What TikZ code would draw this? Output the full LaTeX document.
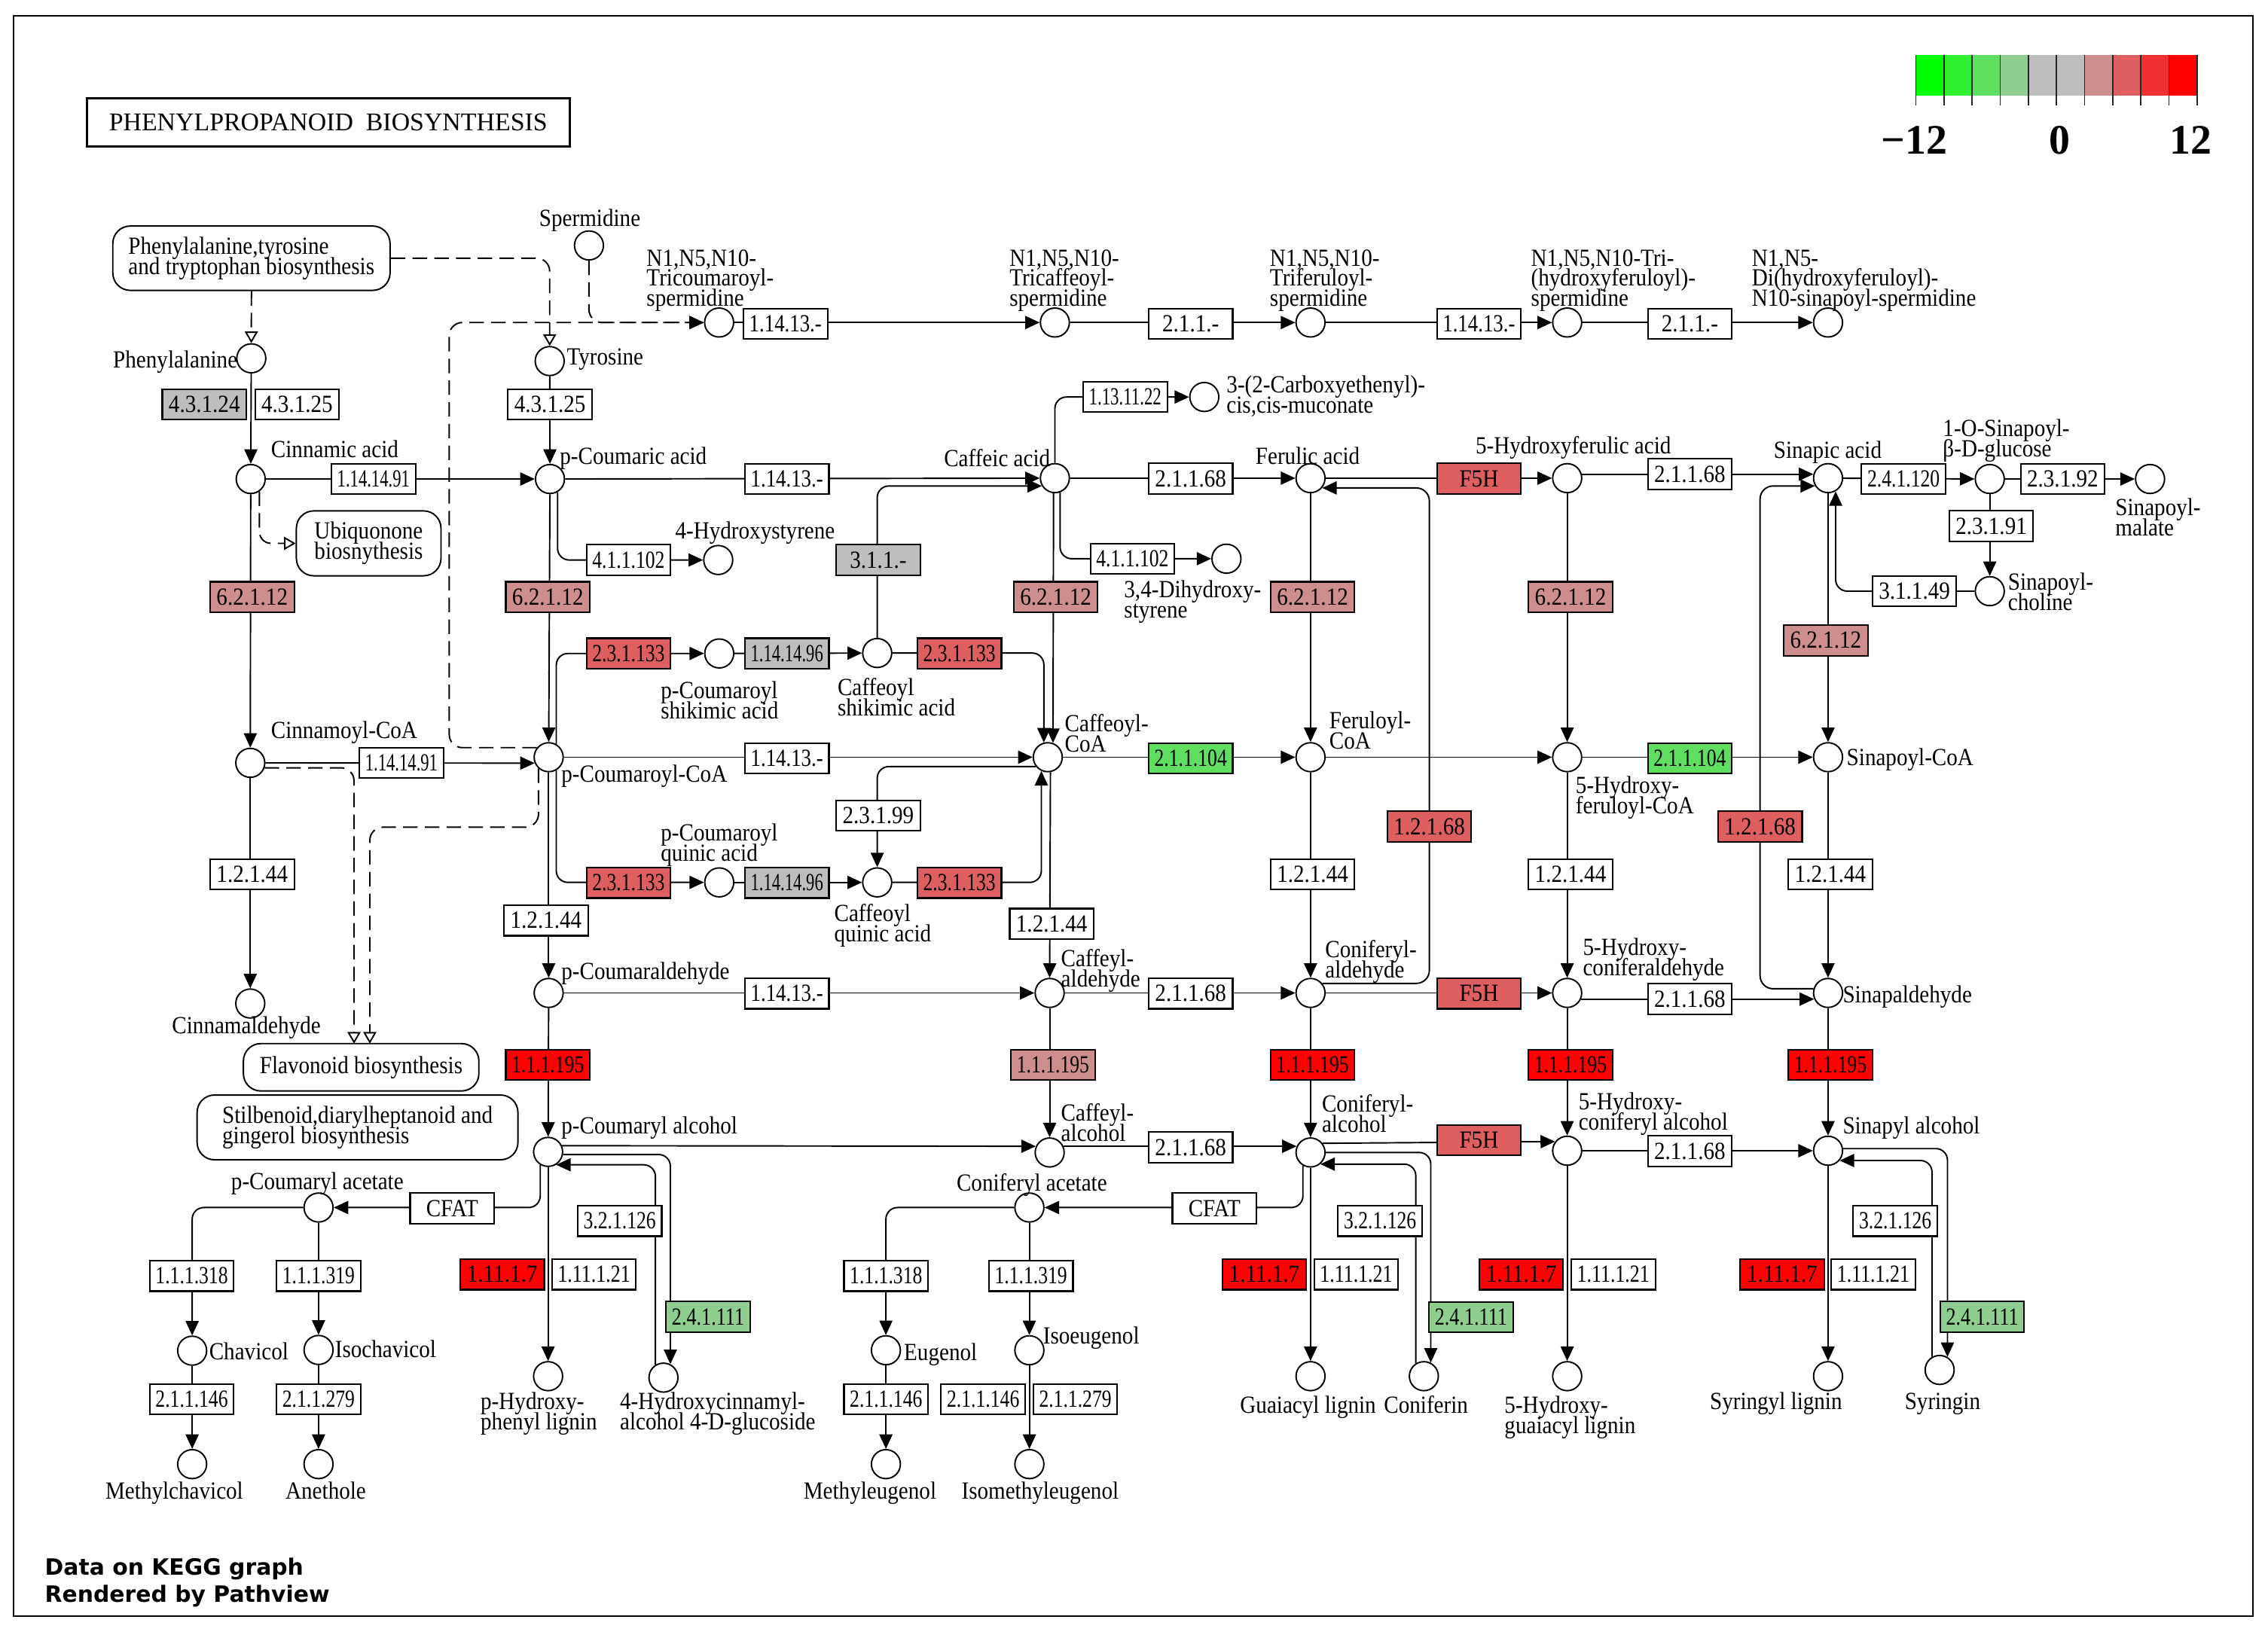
\documentclass[tikz,border=0pt]{standalone}
\usepackage{fontspec}
\usepackage{graphicx}
\setmainfont{Liberation Serif}
\newfontfamily\labf{Liberation Serif}[FakeStretch=0.89]
\newfontfamily\dvs{DejaVu Sans}
\usetikzlibrary{arrows.meta,calc}
\pgfdeclarelayer{back}
\pgfdeclarelayer{bg}
\pgfsetlayers{back,bg,main}
\definecolor{gA}{RGB}{0,255,0}
\definecolor{gB}{RGB}{48,238,48}
\definecolor{gC}{RGB}{95,222,95}
\definecolor{gD}{RGB}{143,206,143}
\definecolor{greyz}{RGB}{190,190,190}
\definecolor{rA}{RGB}{206,142,142}
\definecolor{rB}{RGB}{222,95,95}
\definecolor{rC}{RGB}{238,48,48}
\definecolor{rD}{RGB}{255,0,0}
\newsavebox\ecsave
\newcommand\ectext[1]{\sbox\ecsave{#1}\ifdim\wd\ecsave>50pt\pgfmathparse{50/\wd\ecsave}\scalebox{\pgfmathresult}[1]{\usebox\ecsave}\else\usebox\ecsave\fi}
\newcommand\mlabs[2]{\vtop{\baselineskip=#1\relax\lineskiplimit=-30pt\lineskip=0pt\tabskip=0pt\halign{##\hfil\cr#2\crcr}}}
\newcommand\mlab[1]{\mlabs{14pt}{#1}}
\tikzset{
 lf/.style={font=\labf\fontsize{17}{14}\selectfont},
 cpd/.style={circle, draw, fill=white, minimum size=20pt, inner sep=0pt, line width=1pt},
 ecb/.style={rectangle, draw, fill=white, minimum width=58pt, minimum height=21pt, inner sep=0pt, line width=1.1pt, lf},
 mapb/.style={rectangle, draw, fill=white, rounded corners=12pt, line width=1pt, inner sep=0pt, lf},
 lbl/.style={inner sep=0pt, lf, anchor=base west},
 lblc/.style={inner sep=0pt, lf, anchor=base},
 arr/.style={line width=1pt, -{Triangle[length=10pt,width=9pt]}},
 dsh/.style={line width=1pt, dash pattern=on 10pt off 5pt},
 oarr/.style={-{Triangle[open,length=8pt,width=9pt]}},
}
\newcommand\ecn[4][white]{\node[ecb,fill=#1] (#2) at (#3) {\ectext{#4}};}
\begin{document}
\begin{tikzpicture}[x=1pt,y=-1pt]
\useasboundingbox (0,0) rectangle (1565,1136.7);
\begin{pgfonlayer}{back}
\fill[white] (0,0) rectangle (1565,1136.7);
\end{pgfonlayer}
\draw[line width=1pt] (9.3,10.9) rectangle (1554.6,1115.5);
% title
\node[draw, line width=1.6pt, minimum width=333pt, minimum height=33pt, inner sep=0pt, font=\fontsize{17.6}{20}\selectfont] (title) at (226.5,84.5) {PHENYLPROPANOID\ \ BIOSYNTHESIS};
% legend
\fill[gA] (1322,38.2) rectangle ++(19.4,27.6);
\fill[gB] (1341.4,38.2) rectangle ++(19.4,27.6);
\fill[gC] (1360.8,38.2) rectangle ++(19.4,27.6);
\fill[gD] (1380.2,38.2) rectangle ++(19.4,27.6);
\fill[greyz] (1399.6,38.2) rectangle ++(38.8,27.6);
\fill[rA] (1438.4,38.2) rectangle ++(19.4,27.6);
\fill[rB] (1457.8,38.2) rectangle ++(19.4,27.6);
\fill[rC] (1477.2,38.2) rectangle ++(19.4,27.6);
\fill[rD] (1496.6,38.2) rectangle ++(19.4,27.6);
\foreach \i in {0,...,10} \draw[line width=0.9pt, black!85] (1322+\i*19.4,38.2) -- (1322+\i*19.4,72.6);
\node[inner sep=0pt, anchor=base, font=\bfseries\fontsize{29}{30}\selectfont] (lg1) at (1321,106.5) {−12};
\node[inner sep=0pt, anchor=base, font=\bfseries\fontsize{29}{30}\selectfont] (lg2) at (1421.4,106.5) {0};
\node[inner sep=0pt, anchor=base, font=\bfseries\fontsize{29}{30}\selectfont] (lg3) at (1511.7,106.5) {12};
% source text
\node[inner sep=0pt, anchor=base west, font=\dvs\bfseries\fontsize{15.5}{18.8}\selectfont] (src) at (30.8,1087) {\mlabs{18.8pt}{Data on KEGG graph\cr Rendered by Pathview}};
% map nodes
\node[mapb, minimum width=191.3pt, minimum height=44.4pt] (ptt) at (173.5,178.2) {\mlab{Phenylalanine,tyrosine\cr and tryptophan biosynthesis}};
\node[mapb, minimum width=99.8pt, minimum height=44.8pt] (ubq) at (254.4,375) {\mlab{Ubiquonone\cr biosnythesis}};
\node[mapb, minimum width=162.5pt, minimum height=32.7pt] (flv) at (249.2,736.6) {Flavonoid biosynthesis};
\node[mapb, minimum width=221.4pt, minimum height=44.7pt] (stb) at (246.7,778.1) {\mlab{Stilbenoid,diarylheptanoid and\cr gingerol biosynthesis}};
% compounds
\node[cpd] (spd) at (406.4,169.4) {};
\node[cpd] (phe) at (173.4,247.3) {};
\node[cpd] (tyr) at (379.3,249.2) {};
\node[cpd] (tcs) at (496.2,222.6) {};
\node[cpd] (tcf) at (727.9,222.6) {};
\node[cpd] (tfr) at (904.3,222.6) {};
\node[cpd] (thf) at (1081.4,222.6) {};
\node[cpd] (dhs) at (1261.4,222.6) {};
\node[cpd] (cin) at (173,330.6) {};
\node[cpd] (pca) at (379.5,330.6) {};
\node[cpd] (caf) at (727.9,330) {};
\node[cpd] (fer) at (904.3,330) {};
\node[cpd] (hfa) at (1081.4,330) {};
\node[cpd] (sin) at (1261.4,330) {};
\node[cpd] (sgl) at (1373,330.6) {};
\node[cpd] (sml) at (1483.6,330.6) {};
\node[cpd] (chol) at (1373,408) {};
\node[cpd] (muc) at (831,274) {};
\node[cpd] (hst) at (495.6,386.5) {};
\node[cpd] (dhst) at (846.3,385.6) {};
\node[cpd] (pcs) at (496.3,451) {};
\node[cpd] (cfs) at (605.3,450.7) {};
\node[cpd] (pcq) at (496.3,609) {};
\node[cpd] (cfq) at (605.3,609) {};
\node[cpd] (cnc) at (172.7,526.5) {};
\node[cpd] (pcc) at (378.6,522.6) {};
\node[cpd] (cfc) at (723,522.6) {};
\node[cpd] (frc) at (904.3,522.6) {};
\node[cpd] (hfc) at (1081.4,522.6) {};
\node[cpd] (snc) at (1261.4,522.6) {};
\node[cpd] (cnd) at (172.7,692.6) {};
\node[cpd] (pcd) at (378.6,685.3) {};
\node[cpd] (cfd) at (724.3,685.3) {};
\node[cpd] (cod) at (904.3,685.3) {};
\node[cpd] (hcd) at (1081.4,685.3) {};
\node[cpd] (snd) at (1261.4,685.3) {};
\node[cpd] (pcl) at (378.2,795) {};
\node[cpd] (cfl) at (724.3,795.4) {};
\node[cpd] (col) at (904.3,795.4) {};
\node[cpd] (hcl) at (1081.4,794.2) {};
\node[cpd] (snl) at (1261.4,794.2) {};
\node[cpd] (pcac) at (219.8,833.4) {};
\node[cpd] (chv) at (132.6,932.2) {};
\node[cpd] (ichv) at (219.8,931.7) {};
\node[cpd] (mchv) at (132.6,1010.5) {};
\node[cpd] (anet) at (219.8,1010.5) {};
\node[cpd] (phl) at (378.2,949.8) {};
\node[cpd] (hcg) at (457.8,950.8) {};
\node[cpd] (coac) at (710.3,833.4) {};
\node[cpd] (eug) at (611.3,931.9) {};
\node[cpd] (ieug) at (710.3,931.9) {};
\node[cpd] (meug) at (611.3,1010.5) {};
\node[cpd] (imeug) at (710.3,1010.5) {};
\node[cpd] (gl) at (904.3,949.8) {};
\node[cpd] (cfn) at (982.5,949.8) {};
\node[cpd] (hgl) at (1081.4,949.8) {};
\node[cpd] (sl) at (1261.4,949.8) {};
\node[cpd] (syr) at (1338.4,945.5) {};
% bend coordinates
\coordinate (b1) at (310,222.6);
\coordinate (fa) at (244.3,720.3);
\coordinate (fb) at (255.2,720.3);
\coordinate (fc) at (255.2,570.9);
% enzymes
\ecn[greyz]{e1}{141,279}{4.3.1.24}
\ecn{e2}{205,279}{4.3.1.25}
\ecn{e3}{379.5,279}{4.3.1.25}
\ecn{e4}{257.7,330.6}{1.14.14.91}
\ecn{e5}{542,223.4}{1.14.13.-}
\ecn{e6}{821.6,223.4}{2.1.1.-}
\ecn{e7}{1020.5,223.4}{1.14.13.-}
\ecn{e8}{1166,223.4}{2.1.1.-}
\ecn{e9}{543,330.6}{1.14.13.-}
\ecn{e10}{776.4,274}{1.13.11.22}
\ecn{e11}{821.6,330.3}{2.1.1.68}
\ecn[rB]{e12}{1020.5,330.3}{F5H}
\ecn{e13}{1166,327.2}{2.1.1.68}
\ecn{e14}{1313.5,330.6}{2.4.1.120}
\ecn{e15}{1423.3,330.6}{2.3.1.92}
\ecn{e16}{1374,363}{2.3.1.91}
\ecn{e17}{1321,408}{3.1.1.49}
\ecn[rA]{e18}{174,412}{6.2.1.12}
\ecn[rA]{e19}{378,412}{6.2.1.12}
\ecn{e20}{433.7,386.5}{4.1.1.102}
\ecn[greyz]{e21}{606,386.5}{3.1.1.-}
\ecn[rA]{e22}{728.5,412}{6.2.1.12}
\ecn{e23}{781.4,385.6}{4.1.1.102}
\ecn[rA]{e24}{905.7,412}{6.2.1.12}
\ecn[rA]{e25}{1083.7,412}{6.2.1.12}
\ecn[rA]{e26}{1259.8,442}{6.2.1.12}
\ecn[rB]{e27}{433.7,451}{2.3.1.133}
\ecn[greyz]{e28}{543,451}{1.14.14.96}
\ecn[rB]{e29}{662,451}{2.3.1.133}
\ecn{e30}{277,526.4}{1.14.14.91}
\ecn{e31}{543,523.4}{1.14.13.-}
\ecn[gC]{e32}{821.6,523.4}{2.1.1.104}
\ecn[gC]{e33}{1166,523.4}{2.1.1.104}
\ecn{e34}{606,562.8}{2.3.1.99}
\ecn[rB]{e35}{986.3,570.4}{1.2.1.68}
\ecn[rB]{e36}{1214.5,570.4}{1.2.1.68}
\ecn{e37}{174,603.5}{1.2.1.44}
\ecn[rB]{e38}{433.7,609.3}{2.3.1.133}
\ecn[greyz]{e39}{543,609.3}{1.14.14.96}
\ecn[rB]{e40}{662,609.3}{2.3.1.133}
\ecn{e41}{905.7,603.5}{1.2.1.44}
\ecn{e42}{1083.7,603.5}{1.2.1.44}
\ecn{e43}{1263,603.5}{1.2.1.44}
\ecn{e44}{376.8,635.3}{1.2.1.44}
\ecn{e45}{725.7,637.6}{1.2.1.44}
\ecn{e46}{543,685.7}{1.14.13.-}
\ecn{e47}{821.6,685.7}{2.1.1.68}
\ecn[rB]{e48}{1020.5,685.7}{F5H}
\ecn{e49}{1166,689.5}{2.1.1.68}
\ecn[rD]{e50}{378,735}{1.1.1.195}
\ecn[rA]{e51}{726.6,735}{1.1.1.195}
\ecn[rD]{e52}{905.7,735}{1.1.1.195}
\ecn[rD]{e53}{1083.7,735}{1.1.1.195}
\ecn[rD]{e54}{1263,735}{1.1.1.195}
\ecn{e55}{821.6,791.8}{2.1.1.68}
\ecn[rB]{e56}{1020.5,787}{F5H}
\ecn{e57}{1166,794.5}{2.1.1.68}
\ecn{e58}{312,834}{CFAT}
\ecn{e59}{427.6,842.7}{3.2.1.126}
\ecn[rD]{e60}{346.5,879.6}{1.11.1.7}
\ecn{e61}{409.9,879.6}{1.11.1.21}
\ecn[gD]{e62}{488.6,908.8}{2.4.1.111}
\ecn{e63}{132.3,880.6}{1.1.1.318}
\ecn{e64}{219.8,880.6}{1.1.1.319}
\ecn{e65}{132.3,965.7}{2.1.1.146}
\ecn{e66}{219.8,965.7}{2.1.1.279}
\ecn{e67}{838,834}{CFAT}
\ecn{e68}{611.4,880.6}{1.1.1.318}
\ecn{e69}{711.4,880.6}{1.1.1.319}
\ecn{e70}{611.4,965.7}{2.1.1.146}
\ecn{e71}{678.4,965.7}{2.1.1.146}
\ecn{e72}{742,965.7}{2.1.1.279}
\ecn{e73}{952.3,842.7}{3.2.1.126}
\ecn[rD]{e74}{872.4,879.6}{1.11.1.7}
\ecn{e75}{935.8,879.6}{1.11.1.21}
\ecn[gD]{e76}{1015,909}{2.4.1.111}
\ecn[rD]{e77}{1049.7,879.6}{1.11.1.7}
\ecn{e78}{1113.2,879.6}{1.11.1.21}
\ecn[rD]{e79}{1229.7,879.6}{1.11.1.7}
\ecn{e80}{1292.6,879.6}{1.11.1.21}
\ecn{e81}{1307.8,842.7}{3.2.1.126}
\ecn[gD]{e82}{1367.8,908.8}{2.4.1.111}
% labels
\node[lblc] (L1) at (407,156) {Spermidine};
\node[lbl] (L2) at (446,183.5) {\mlab{N1,N5,N10-\cr Tricoumaroyl-\cr spermidine}};
\node[lbl] (L3) at (696.4,183.5) {\mlab{N1,N5,N10-\cr Tricaffeoyl-\cr spermidine}};
\node[lbl] (L4) at (876.1,183.5) {\mlab{N1,N5,N10-\cr Triferuloyl-\cr spermidine}};
\node[lbl] (L5) at (1056.3,183.5) {\mlab{N1,N5,N10-Tri-\cr (hydroxyferuloyl)-\cr spermidine}};
\node[lbl] (L6) at (1208.7,183.5) {\mlab{N1,N5-\cr Di(hydroxyferuloyl)-\cr N10-sinapoyl-spermidine}};
\node[lbl, anchor=base east] (L8) at (164,254) {Phenylalanine};
\node[lbl] (L9) at (391,252) {Tyrosine};
\node[lblc] (L10) at (231,316) {Cinnamic acid};
\node[lbl] (L11) at (386.2,320.6) {p-Coumaric acid};
\node[lbl] (L12) at (651.2,322) {Caffeic acid};
\node[lbl] (L13) at (866.2,320.6) {Ferulic acid};
\node[lbl] (L14) at (1018,313.4) {5-Hydroxyferulic acid};
\node[lbl] (L15) at (1223.8,316.5) {Sinapic acid};
\node[lbl] (L16) at (1340.5,301.3) {\mlab{1-O-Sinapoyl-\cr β-D-glucose}};
\node[lbl] (L17) at (1459.5,355.7) {\mlab{Sinapoyl-\cr malate}};
\node[lbl] (L19) at (465.8,372) {4-Hydroxystyrene};
\node[lbl] (L20) at (846.2,271) {\mlab{3-(2-Carboxyethenyl)-\cr cis,cis-muconate}};
\node[lbl] (L21) at (775.5,412.4) {\mlab{3,4-Dihydroxy-\cr styrene}};
\node[lbl] (L22) at (455.8,482) {\mlab{p-Coumaroyl\cr shikimic acid}};
\node[lbl] (L23) at (577.8,480.2) {\mlab{Caffeoyl\cr shikimic acid}};
\node[lbl] (L24) at (455.8,580.5) {\mlab{p-Coumaroyl\cr quinic acid}};
\node[lbl] (L25) at (575.5,636) {\mlab{Caffeoyl\cr quinic acid}};
\node[lbl] (L26) at (734.6,504.9) {\mlab{Caffeoyl-\cr CoA}};
\node[lbl] (L27) at (917.1,502.9) {\mlab{Feruloyl-\cr CoA}};
\node[lblc] (L28) at (237.5,509.4) {Cinnamoyl-CoA};
\node[lbl] (L29) at (387.2,539.6) {p-Coumaroyl-CoA};
\node[lbl] (L30) at (1087.1,547.7) {\mlab{5-Hydroxy-\cr feruloyl-CoA}};
\node[lbl] (L31) at (1274.1,528.1) {Sinapoyl-CoA};
\node[lblc] (L32) at (170,713.5) {Cinnamaldehyde};
\node[lbl] (L33) at (387.2,675.7) {p-Coumaraldehyde};
\node[lbl] (L34) at (732,667) {\mlab{Caffeyl-\cr aldehyde}};
\node[lbl] (L35) at (914.3,661.1) {\mlab{Coniferyl-\cr aldehyde}};
\node[lbl] (L36) at (1092.1,659.1) {\mlab{5-Hydroxy-\cr coniferaldehyde}};
\node[lbl] (L37) at (1271.4,692.1) {Sinapaldehyde};
\node[lbl] (L38) at (387.2,782.6) {p-Coumaryl alcohol};
\node[lbl] (L39) at (732,773.9) {\mlab{Caffeyl-\cr alcohol}};
\node[lbl] (L40) at (912,767.6) {\mlab{Coniferyl-\cr alcohol}};
\node[lbl] (L41) at (1089.1,765.8) {\mlab{5-Hydroxy-\cr coniferyl alcohol}};
\node[lbl] (L42) at (1271.4,782.6) {Sinapyl alcohol};
\node[lbl] (L43) at (1385.4,407.4) {\mlab{Sinapoyl-\cr choline}};
\node[lblc] (L46) at (219,821) {p-Coumaryl acetate};
\node[lbl] (L47) at (144.2,938.2) {Chavicol};
\node[lbl] (L48) at (231,937) {Isochavicol};
\node[lblc] (L49) at (120.3,1034.8) {Methylchavicol};
\node[lblc] (L50) at (224.8,1034.8) {Anethole};
\node[lbl] (L51) at (331.5,972.9) {\mlab{p-Hydroxy-\cr phenyl lignin}};
\node[lbl] (L52) at (427.6,972.9) {\mlab{4-Hydroxycinnamyl-\cr alcohol 4-D-glucoside}};
\node[lblc] (L53) at (712,821.8) {Coniferyl acetate};
\node[lbl] (L54) at (623.6,938.9) {Eugenol};
\node[lbl] (L55) at (719.6,927.5) {Isoeugenol};
\node[lblc] (L56) at (600.3,1034.8) {Methyleugenol};
\node[lblc] (L57) at (717.7,1034.8) {Isomethyleugenol};
\node[lblc] (L58) at (902.6,975.4) {Guaiacyl lignin};
\node[lblc] (L59) at (984,975.4) {Coniferin};
\node[lbl] (L60) at (1038,975.4) {\mlab{5-Hydroxy-\cr guaiacyl lignin}};
\node[lblc] (L61) at (1225.5,972.9) {Syringyl lignin};
\node[lblc] (L62) at (1340.4,972.9) {Syringin};
% connectors
\begin{pgfonlayer}{bg}
\draw[arr] (tcs) -- (tcf);
\draw[arr] (tcf) -- (tfr);
\draw[arr] (tfr) -- (thf);
\draw[arr] (thf) -- (dhs);
\draw[dsh, oarr] (ptt.south) -- (phe.north);
\draw[dsh, oarr, rounded corners=9pt] (ptt.east) -| (tyr.north);
\draw[dsh, arr, rounded corners=9pt] (spd.south) |- (tcs.west);
\draw[dsh, arr, rounded corners=9pt] (pcc.141) -| (b1) -- (tcs.west);
\draw[dsh, oarr, rounded corners=8pt] (cin.-55) |- (ubq.west);
\draw[dsh, oarr, rounded corners=9pt] (cnc.-19) -| (fa);
\draw[dsh, oarr, rounded corners=9pt] (pcc.-132) |- (fc) -- (fb);
\draw[arr] (phe) -- (cin);
\draw[arr] (tyr) -- (pca);
\draw[arr] (cin) -- (pca);
\draw[arr] (cin) -- (cnc);
\draw[arr] (cnc) -- (cnd);
\draw[arr] (cnc.east) -- (pcc.203);
\draw[arr] (pca) -- (caf);
\draw[arr] (pca) -- (pcc);
\draw[arr, rounded corners=8pt] (pca.-60) |- (hst.west);
\draw[arr, rounded corners=8pt] (pcc.60) |- (pcs.west);
\draw[arr] (pcs) -- (cfs);
\draw[arr, rounded corners=8pt] (cfs.east) -| (cfc.105);
\draw[arr, rounded corners=8pt] (cfs.north) |- (caf.211);
\draw[arr, rounded corners=8pt] (caf.north) |- (muc.west);
\draw[arr, rounded corners=8pt] (caf.-70) |- (dhst.west);
\draw[arr] (caf.-95) -- (cfc.70);
\draw[arr] (caf) -- (fer);
\draw[arr] (fer) -- (hfa);
\draw[arr] (fer) -- (frc);
\draw[arr] (hfa.15) -- (sin.165);
\draw[arr] (hfa) -- (hfc);
\draw[arr] (sin) -- (sgl);
\draw[arr] (sgl) -- (sml);
\draw[arr] (sgl) -- (chol);
\draw[arr, rounded corners=8pt] (chol.west) -| (sin.-60);
\draw[arr] (sin) -- (snc);
\draw[arr] (pcc) -- (cfc);
\draw[arr, rounded corners=8pt] (pcc.-60) |- (pcq.west);
\draw[arr] (pcq) -- (cfq);
\draw[arr, rounded corners=8pt] (cfq.east) -| (cfc.-115);
\draw[arr, rounded corners=8pt] (cfc.218) -| (cfq.north);
\draw[arr] (cfc) -- (frc);
\draw[arr] (cfc.-80) -- (cfd.north);
\draw[arr] (frc) -- (hfc);
\draw[arr] (frc) -- (cod);
\draw[arr] (hfc) -- (snc);
\draw[arr] (hfc) -- (hcd);
\draw[arr] (snc) -- (snd);
\draw[arr] (pcc) -- (pcd);
\draw[arr] (pcd) -- (cfd);
\draw[arr] (cfd) -- (cod);
\draw[arr] (cod) -- (hcd);
\draw[arr] (hcd.-24) -- (snd.204);
\draw[arr, rounded corners=9pt] (cod.39) -| (e35.center) |- (fer.-40);
\draw[arr, rounded corners=9pt] (snd.164) -| (e36.center) |- (sin.211);
\draw[arr] (pcd) -- (pcl);
\draw[arr] (cfd) -- (cfl);
\draw[arr] (cod) -- (col);
\draw[arr] (hcd) -- (hcl);
\draw[arr] (snd) -- (snl);
\draw[arr] (pcl.24) -- (cfl.156);
\draw[arr] (cfl.24) -- (col.156);
\draw[arr] (col.37) -- (hcl.143);
\draw[arr] (hcl) -- (snl);
\draw[arr] (pcl) -- (phl);
\draw[arr, rounded corners=8pt] (pcl.-10) -| (hcg.63);
\draw[arr, rounded corners=8pt] (hcg.122) |- (pcl.-58);
\draw[arr, rounded corners=8pt] (pcl.-121) |- (pcac.east);
\draw[arr, rounded corners=8pt] (pcac.west) -| (chv.north);
\draw[arr] (pcac) -- (ichv);
\draw[arr] (chv) -- (mchv);
\draw[arr] (ichv) -- (anet);
\draw[arr, rounded corners=8pt] (col.-120) |- (coac.east);
\draw[arr, rounded corners=8pt] (coac.west) -| (eug.north);
\draw[arr] (coac) -- (ieug);
\draw[arr] (eug) -- (meug);
\draw[arr] (ieug) -- (imeug);
\draw[arr] (col) -- (gl);
\draw[arr, rounded corners=8pt] (col.east) -| (cfn.63);
\draw[arr, rounded corners=8pt] (cfn.122) |- (col.-50);
\draw[arr] (hcl) -- (hgl);
\draw[arr] (snl) -- (sl);
\draw[arr, rounded corners=8pt] (snl.8) -| (syr.59);
\draw[arr, rounded corners=8pt] (syr.120) |- (snl.-40);
\end{pgfonlayer}
\end{tikzpicture}
\end{document}
